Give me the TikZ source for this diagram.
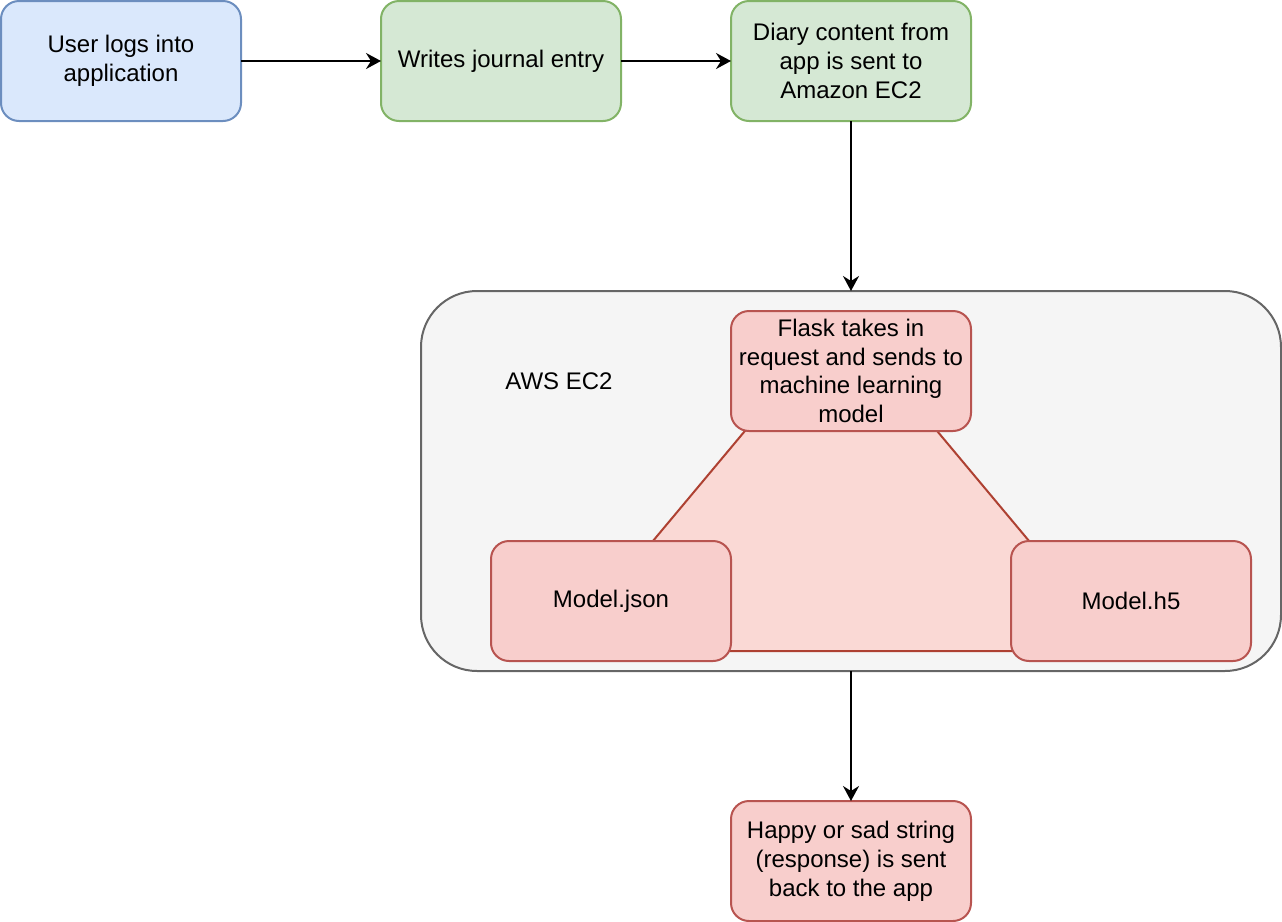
\documentclass[tikz,border=0pt]{standalone}
\usepackage{fontspec}
\setmainfont{Liberation Sans}
\usetikzlibrary{positioning, arrows.meta}
\definecolor{bluefill}{HTML}{DAE8FC}
\definecolor{blueline}{HTML}{6C8EBF}
\definecolor{greenfill}{HTML}{D5E8D4}
\definecolor{greenline}{HTML}{82B366}
\definecolor{redfill}{HTML}{F8CECC}
\definecolor{redline}{HTML}{B85450}
\definecolor{grayfill}{HTML}{F5F5F5}
\definecolor{grayline}{HTML}{666666}
\definecolor{trifill}{HTML}{FAD9D5}
\definecolor{triline}{HTML}{AE4132}
\tikzset{node distance=70pt, % gap between the boxes of the top row
every node/.style={ % Sets the font for all texts
font=\fontsize{12}{14.4}\selectfont},
box/.style={ % Sets the properties for each step box
draw, line width=1pt, outer sep=0pt,
rounded corners=9pt,
minimum width=120pt, minimum height=60pt,
align=center},
userbox/.style={box, fill=bluefill, draw=blueline},
appbox/.style={box, fill=greenfill, draw=greenline},
modelbox/.style={box, fill=redfill, draw=redline},
cloud/.style={ % The EC2 container
draw=grayline, fill=grayfill, line width=1pt, outer sep=0pt,
rounded corners=28pt,
minimum width=430pt, minimum height=190pt},
flow/.style={ % Sets the properties for each connector
draw, ->, >={Stealth[length=7.5pt, width=8pt, inset=2.5pt]},
line width=1pt}}

\begin{document}
\begin{tikzpicture}[x=1pt, y=-1pt]
    \useasboundingbox (0,0) rectangle (641,461);
    
    \node[userbox] (login) at (60.5,30.5) {User logs into\\application};
    \node[appbox, right=of login] (write) {Writes journal entry};
    \node[appbox, right=55pt of write] (diary) {Diary content from\\app is sent to\\Amazon EC2};
    
    \node[cloud, below=85pt of diary] (ec2) {};
    \node (ec2label) at (279.5,190.5) {AWS EC2};
    
    % triangle behind the model boxes
    \draw[fill=trifill, draw=triline, line width=1pt, line join=round]
        (420.5,158) -- (560.5,325.5) -- (280.5,325.5) -- cycle;
    
    \node[modelbox, below=10pt of ec2.north] (flask) {Flask takes in\\request and sends to\\machine learning\\model};
    \node[modelbox, above right=5pt and 35pt of ec2.south west] (json) {Model.json};
    \node[modelbox, above left=5pt and 15pt of ec2.south east] (h5) {Model.h5};
    
    \node[modelbox, below=65pt of ec2] (result) {Happy or sad string\\(response) is sent\\back to the app};
    
    \draw[flow] (login) -- (write);
    \draw[flow] (write) -- (diary);
    \draw[flow] (diary) -- (ec2);
    \draw[flow] (ec2) -- (result);
    
\end{tikzpicture}
\end{document}
